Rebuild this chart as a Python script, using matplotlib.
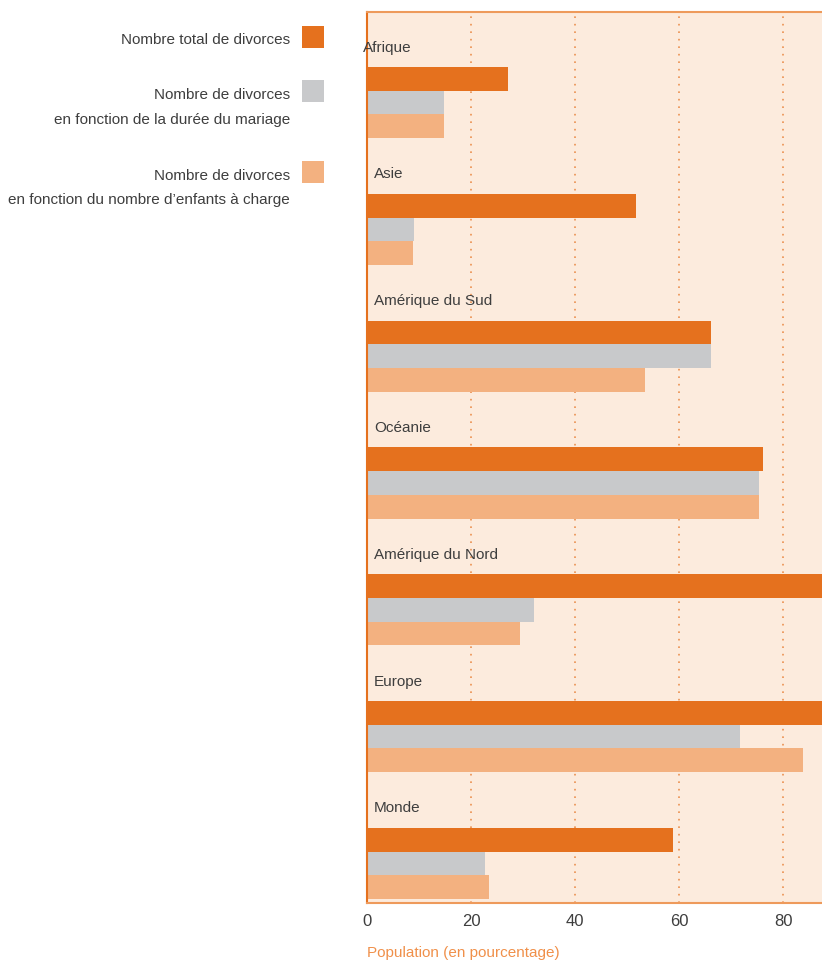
import matplotlib
matplotlib.use("Agg")
import matplotlib.pyplot as plt
from matplotlib.patches import Rectangle

plt.rcParams["font.family"] = ["Liberation Sans", "DejaVu Sans"]

# ── Data ──────────────────────────────────────────────────────────────────────
regions = ["Afrique", "Asie", "Amérique du Sud", "Océanie",
           "Amérique du Nord", "Europe", "Monde"]
total = [27.1, 51.7, 66.2, 76.2, 92.0, 94.0, 58.8]
duree_mariage = [14.8, 9.0, 66.2, 75.4, 32.1, 71.7, 22.7]
enfants_charge = [14.8, 8.8, 53.5, 75.4, 29.4, 83.8, 23.5]

series_labels = ["Nombre total de divorces",
                 "Nombre de divorces\nen fonction de la durée du mariage",
                 "Nombre de divorces\nen fonction du nombre d\u2019enfants à charge"]
x_ticks = [0, 20, 40, 60, 80]
x_label = "Population (en pourcentage)"

# ── Style ─────────────────────────────────────────────────────────────────────
ORANGE = "#e5711e"
GREY = "#c8c9cb"
LIGHT = "#f3b180"
BG = "#fcebdd"
GRID = "#eb9050"
TEXT = "#3e3e3e"
colors = [ORANGE, GREY, LIGHT]
FS = 11

W, H = 822, 964
fig = plt.figure(figsize=(W / 100, H / 100), dpi=100)
fig.patch.set_facecolor("white")

ax_l, ax_t, ax_b = 367, 12, 903
ax = fig.add_axes([ax_l / W, 1 - ax_b / H, 1 - ax_l / W, (ax_b - ax_t) / H])
ax.set_facecolor(BG)

slot = 126.8                     # px per region group
bar_h = 23.7 / slot
first_top = 55 / slot            # top of the first bar in each group
ax.set_ylim((ax_b - ax_t) / slot, 0)
ax.set_xlim(0, (W - ax_l) / 5.2)

for s, vals in enumerate([total, duree_mariage, enfants_charge]):
    ys = [i + first_top + bar_h * (s + 0.5) for i in range(len(regions))]
    ax.barh(ys, vals, height=bar_h, color=colors[s], zorder=2, linewidth=0)

for i, name in enumerate(regions):
    x = -0.8 if i == 0 else 1.3
    ax.text(x, i + 0.28, name, fontsize=FS, color=TEXT, ha="left",
            va="center", zorder=3)

# dotted vertical grid
for xv in x_ticks[1:]:
    ax.axvline(xv, color=GRID, linestyle=(0, (1, 3.5)), linewidth=1.2, zorder=1)

ax.set_yticks([])
ax.set_xticks(x_ticks)
ax.set_xticklabels([str(v) for v in x_ticks], fontsize=12, color=TEXT)
ax.tick_params(axis="x", length=0, pad=8)
ax.set_xlabel(x_label, fontsize=FS, color="#f0904a", loc="left", labelpad=12)

for side in ["top", "bottom"]:
    ax.spines[side].set_color("#ee9a5b")
    ax.spines[side].set_linewidth(1.5)
ax.spines["left"].set_color(ORANGE)
ax.spines["left"].set_linewidth(1.5)
ax.spines["right"].set_visible(False)

# ── Legend (left margin) ──────────────────────────────────────────────────────
def px(x, y):
    return x / W, 1 - y / H

legend_rows = [(26, [40]), (80, [95, 120]), (161, [176, 200])]
for (sq_top, line_ys), label, c in zip(legend_rows, series_labels, colors):
    x0, y0 = px(302, sq_top + 22)
    fig.add_artist(Rectangle((x0, y0), 22 / W, 22 / H, transform=fig.transFigure,
                             facecolor=c, edgecolor="none"))
    for yy, line in zip(line_ys, label.split("\n")):
        fig.text(*px(290, yy), line, fontsize=FS, color=TEXT,
                 ha="right", va="center")

fig.savefig("out.png", dpi=100, facecolor=fig.get_facecolor())
